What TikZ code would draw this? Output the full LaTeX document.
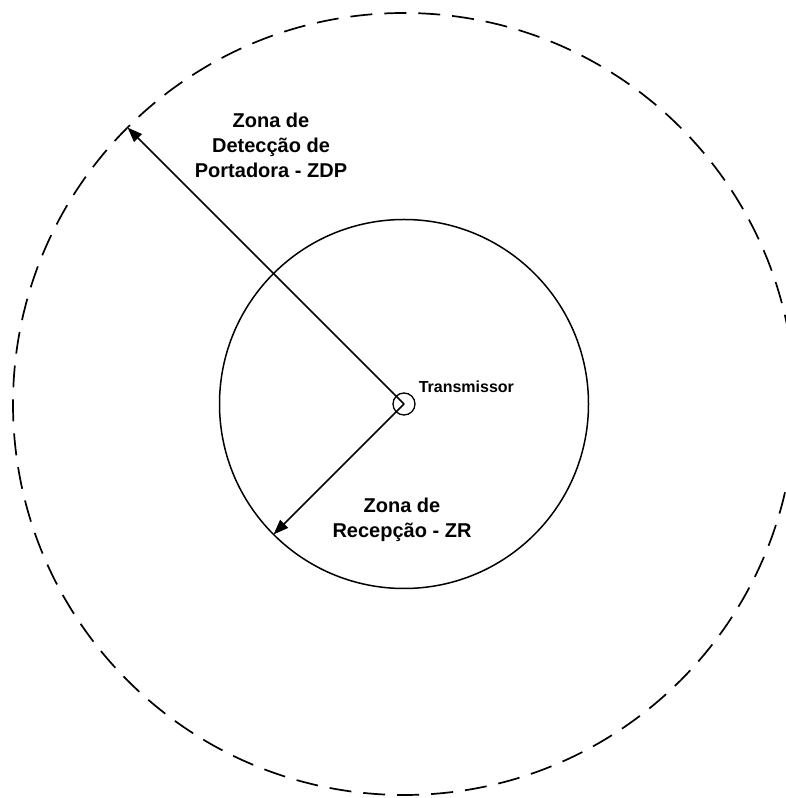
\documentclass[tikz,border=0pt]{standalone}
\usepackage{fontspec}
\setmainfont{Liberation Sans}
\usepackage{tikz}
\usetikzlibrary{positioning,calc,arrows.meta}

\begin{document}
\begin{tikzpicture}[x=1pt, y=1pt, line width=1.5pt,
  zone/.style={circle, draw, inner sep=0pt, outer sep=0pt},
  radius arrow/.style={-{Triangle[length=15pt, width=11pt]}},
  zonelabel/.style={align=center, font=\fontsize{20}{25}\selectfont\bfseries}]
  \useasboundingbox (0, 0) rectangle (786, 798);

  % transmitter and zones
  \node[zone, minimum size=22pt, line width=1.3pt] (tx) at (404, 394) {};
  \node[zone, minimum size=369pt] (zr) at (tx.center) {};
  \node[zone, minimum size=782pt, dash pattern=on 22pt off 12pt, line width=1.7pt] (zdp) at (tx.center) {};
  \node[anchor=west, inner sep=0pt, font=\fontsize{16}{19}\selectfont\bfseries] (txlabel) at (418, 411) {Transmissor};

  % radii
  \draw[radius arrow] (tx.center) -- (zdp.135);
  \draw[radius arrow] (tx.center) -- (zr.225);

  % labels
  \node[zonelabel] (zdplabel) at (271, 653) {Zona de\\Detecção de\\Portadora - ZDP};
  \node[zonelabel] (zrlabel) at (402, 278) {Zona de\\Recepção - ZR};
\end{tikzpicture}
\end{document}
